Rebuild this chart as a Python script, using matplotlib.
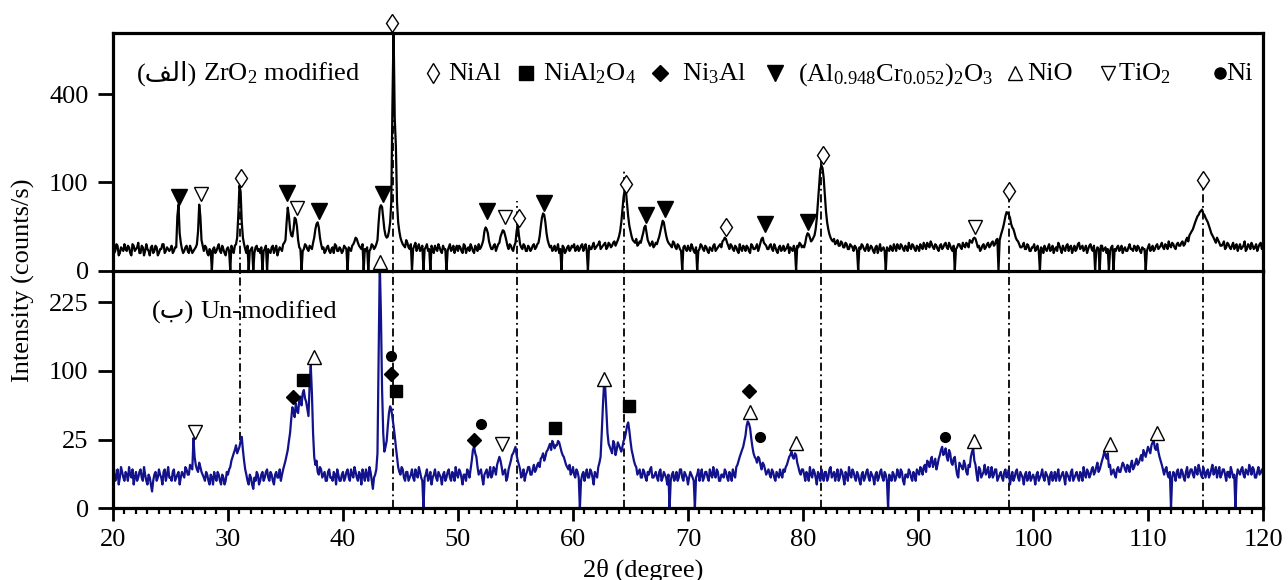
import numpy as np
import matplotlib
matplotlib.use('Agg')
import matplotlib.pyplot as plt

plt.rcParams['font.family'] = ['Liberation Serif', 'DejaVu Sans']
plt.rcParams['mathtext.fontset'] = 'custom'
plt.rcParams['mathtext.rm'] = 'Liberation Serif'
plt.rcParams['mathtext.it'] = 'Liberation Serif:italic'
plt.rcParams['mathtext.default'] = 'regular'

# 2theta grid, 0.1 degree step (20..120)
two_theta = np.linspace(20, 120, 1001)

# ZrO2 modified pattern (counts/s), read at 20.0, 20.2, ... (one row per 5 deg)
zro2_even = [
    7, 5, 8, 4, 6, 9, 5, 7, 3, 8, 6, 10, 4, 7, 5, 6, 3, 8, 5, 7, 4, 6, 9, 5, 6,
    6, 4, 7, 38, 18, 6, 5, 8, 4, 6, 5, 7, 20, 38, 8, 8, 4, 6, 0, 7, 5, 9, 4, 6, 3,
    7, 0, 6, 8, 14, 93, 30, 9, 4, 0, 6, 0, 7, 5, 4, 0, 6, 0, 5, 7, 4, 8, 5, 6, 9,
    12, 51, 22, 15, 36, 25, 7, 0, 6, 8, 5, 7, 10, 22, 30, 14, 6, 4, 7, 5, 6, 4, 8, 5, 6,
    5, 7, 0, 6, 8, 11, 13, 8, 6, 0, 5, 0, 6, 8, 7, 12, 50, 52, 22, 14, 20, 60, 760, 200, 30,
    14, 9, 7, 10, 6, 0, 8, 5, 9, 6, 0, 7, 5, 0, 6, 8, 5, 7, 4, 6, 0, 7, 5, 8, 6,
    5, 7, 4, 8, 6, 5, 7, 4, 6, 9, 7, 12, 24, 18, 8, 6, 9, 7, 10, 18, 20, 12, 6, 8, 5,
    10, 28, 9, 6, 8, 5, 7, 6, 9, 7, 10, 25, 42, 30, 12, 7, 5, 8, 6, 4, 0, 7, 5, 8, 6,
    7, 5, 8, 6, 9, 7, 5, 8, 6, 10, 7, 9, 6, 8, 10, 7, 9, 8, 11, 10, 15, 30, 70, 82, 38,
    20, 12, 10, 8, 11, 14, 24, 18, 10, 9, 7, 10, 12, 20, 32, 22, 12, 9, 7, 10, 6, 8, 5, 7, 6,
    8, 5, 7, 4, 0, 6, 8, 5, 7, 4, 6, 8, 5, 7, 9, 11, 14, 10, 6, 8, 5, 7, 4, 6, 8,
    5, 7, 4, 8, 6, 9, 7, 13, 10, 8, 6, 9, 5, 7, 4, 8, 6, 5, 7, 4, 6, 8, 0, 7, 9,
    8, 10, 18, 14, 12, 16, 35, 95, 142, 110, 45, 22, 14, 11, 9, 12, 8, 10, 7, 9, 6, 8, 5, 7, 0,
    6, 8, 5, 9, 6, 7, 4, 8, 6, 5, 7, 0, 6, 8, 5, 7, 9, 6, 8, 5, 7, 10, 6, 8, 5,
    7, 9, 6, 8, 10, 7, 9, 6, 8, 5, 9, 7, 10, 6, 8, 5, 0, 7, 9, 6, 8, 10, 7, 11, 13,
    13, 7, 5, 8, 6, 9, 7, 10, 8, 12, 0, 16, 24, 38, 43, 36, 24, 18, 12, 9, 7, 10, 6, 8, 5,
    7, 5, 8, 0, 6, 8, 5, 9, 6, 4, 7, 10, 6, 8, 5, 9, 7, 4, 8, 6, 10, 7, 5, 8, 6,
    9, 5, 0, 7, 0, 8, 6, 4, 0, 7, 0, 5, 8, 6, 4, 7, 5, 9, 6, 8, 5, 7, 4, 6, 0,
    7, 5, 8, 6, 9, 7, 10, 6, 8, 11, 7, 9, 6, 10, 8, 11, 9, 14, 16, 20, 26, 34, 40, 46, 42,
    36, 30, 22, 16, 12, 14, 10, 8, 11, 7, 9, 6, 10, 8, 5, 9, 7, 11, 6, 8, 10, 6, 9, 7, 10,
    8,
]
# same pattern read at 20.1, 20.3, ...
zro2_mid = [
    4, 9, 3, 7, 5, 6, 8, 4, 9, 5, 7, 4, 8, 3, 9, 5, 7, 4, 8, 3, 6, 9, 4, 7, 5,
    8, 5, 7, 56, 10, 4, 7, 5, 8, 4, 6, 9, 56, 12, 5, 7, 3, 5, 6, 4, 7, 5, 8, 4, 6,
    5, 8, 4, 9, 40, 80, 14, 6, 8, 5, 7, 4, 8, 6, 7, 5, 8, 6, 4, 8, 6, 3, 7, 5, 10,
    30, 38, 16, 22, 34, 12, 6, 5, 9, 6, 8, 6, 14, 28, 24, 9, 7, 5, 8, 4, 7, 9, 5, 7, 4,
    8, 6, 7, 5, 9, 14, 10, 7, 9, 6, 7, 5, 9, 6, 9, 30, 55, 35, 16, 15, 30, 350, 300, 60, 20,
    11, 8, 12, 7, 9, 6, 10, 7, 5, 8, 6, 9, 6, 8, 4, 6, 9, 5, 8, 6, 5, 9, 6, 4, 8,
    8, 5, 9, 4, 7, 9, 5, 8, 5, 6, 9, 20, 22, 11, 6, 8, 5, 9, 15, 21, 16, 8, 9, 6, 8,
    20, 16, 7, 9, 5, 8, 5, 8, 6, 9, 15, 36, 40, 18, 9, 8, 6, 5, 9, 6, 8, 4, 7, 5, 8,
    9, 6, 5, 8, 5, 9, 0, 6, 8, 6, 8, 11, 7, 9, 6, 10, 7, 10, 8, 12, 20, 48, 84, 58, 26,
    15, 11, 13, 9, 10, 18, 26, 12, 8, 11, 8, 9, 15, 26, 30, 16, 10, 8, 11, 7, 9, 6, 0, 8, 5,
    6, 9, 5, 7, 5, 9, 6, 8, 5, 7, 5, 9, 6, 8, 7, 12, 13, 8, 9, 6, 8, 5, 9, 5, 7,
    8, 5, 9, 6, 7, 5, 10, 14, 9, 6, 8, 6, 9, 5, 7, 5, 8, 6, 9, 7, 5, 6, 8, 10, 7,
    7, 15, 17, 11, 14, 22, 60, 130, 135, 75, 30, 17, 12, 13, 10, 8, 11, 7, 10, 6, 9, 7, 8, 5, 7,
    9, 6, 7, 5, 8, 5, 7, 4, 9, 6, 5, 7, 5, 6, 9, 5, 7, 9, 6, 8, 5, 7, 9, 6, 8,
    5, 7, 10, 6, 8, 11, 7, 9, 6, 8, 6, 9, 7, 10, 6, 8, 6, 9, 7, 10, 7, 9, 12, 10, 14,
    10, 8, 6, 9, 7, 10, 8, 11, 9, 13, 12, 20, 30, 44, 40, 28, 22, 14, 11, 7, 8, 6, 9, 5, 7,
    9, 6, 5, 7, 4, 6, 7, 5, 8, 6, 5, 8, 4, 6, 8, 5, 8, 6, 5, 9, 6, 8, 6, 4, 8,
    6, 8, 5, 6, 8, 5, 7, 6, 5, 8, 6, 7, 5, 8, 6, 5, 7, 6, 5, 7, 8, 5, 7, 6, 5,
    9, 6, 5, 8, 6, 8, 7, 9, 6, 8, 10, 7, 9, 8, 10, 8, 12, 11, 18, 22, 30, 38, 44, 48, 40,
    33, 26, 18, 14, 10, 12, 8, 9, 6, 10, 7, 8, 6, 9, 7, 6, 8, 5, 9, 6, 8, 7, 5, 9, 6,
]

# Un-modified pattern (counts/s), read at 20.0, 20.2, ...
unmod_even = [
    6, 4, 8, 5, 7, 4, 6, 9, 5, 3, 7, 5, 8, 4, 6, 3, 5, 1.5, 6, 4, 8, 5, 7, 4, 9,
    5, 7, 4, 6, 3, 7, 5, 8, 6, 9, 26, 10, 7, 9, 6, 4, 6, 3, 5, 7, 4, 6, 3, 5, 4,
    6, 9, 14, 18, 16, 20, 27, 12, 6, 3, 5, 2, 4, 6, 4, 7, 5, 8, 4, 6, 3, 7, 5, 4, 8,
    12, 18, 30, 54, 44, 50, 62, 56, 74, 60, 45, 108, 30, 10, 7, 9, 5, 7, 4, 8, 5, 7, 3, 6, 4,
    7, 5, 8, 4, 6, 9, 5, 7, 3, 6, 8, 4, 7, 2, 6, 16, 320, 75, 17, 24, 48, 52, 36, 20, 9,
    6, 8, 4, 7, 5, 8, 4, 6, 9, 5, 0, 6, 4, 7, 5, 8, 4, 6, 3, 7, 5, 8, 4, 6, 9,
    5, 7, 3, 6, 8, 5, 12, 20, 14, 6, 8, 3, 7, 5, 9, 6, 8, 10, 14, 9, 7, 4, 8, 12, 16,
    20, 12, 8, 6, 4, 7, 9, 6, 10, 8, 11, 13, 16, 14, 18, 22, 24, 19, 21, 23, 17, 14, 10, 8, 6,
    9, 5, 7, 0, 6, 4, 8, 5, 7, 3, 6, 9, 14, 55, 78, 30, 20, 16, 22, 18, 21, 17, 24, 30, 39,
    24, 15, 10, 6, 8, 5, 7, 4, 6, 9, 5, 7, 4, 8, 5, 6, 3, 0, 6, 4, 7, 5, 8, 4, 6,
    3, 7, 5, 0, 6, 4, 8, 5, 7, 4, 6, 9, 5, 7, 4, 6, 8, 5, 7, 4, 6, 9, 12, 16, 20,
    28, 40, 34, 20, 14, 11, 13, 8, 10, 6, 8, 5, 7, 4, 6, 8, 5, 7, 10, 14, 17, 13, 15, 9, 6,
    8, 4, 6, 9, 5, 7, 3, 6, 8, 4, 7, 5, 9, 6, 4, 8, 5, 7, 3, 6, 9, 5, 7, 4, 6,
    3, 7, 5, 8, 4, 6, 3, 7, 5, 8, 4, 6, 0, 5, 7, 4, 8, 5, 7, 3, 6, 8, 5, 7, 4,
    7, 9, 6, 10, 12, 9, 14, 11, 8, 13, 18, 15, 19, 12, 16, 10, 14, 6, 11, 9, 12, 7, 10, 14, 19,
    10, 4, 8, 6, 10, 7, 5, 9, 6, 8, 5, 7, 4, 8, 6, 3, 7, 5, 8, 4, 6, 3, 7, 5, 4,
    6, 3, 7, 5, 8, 4, 6, 3, 7, 5, 4, 8, 5, 7, 3, 6, 4, 8, 5, 7, 4, 6, 9, 5, 7,
    6, 9, 7, 11, 8, 12, 17, 13, 9, 6, 8, 5, 9, 7, 11, 8, 10, 7, 12, 9, 13, 11, 15, 18, 14,
    20, 16, 23, 19, 22, 14, 10, 6, 9, 5, 0, 7, 4, 8, 5, 7, 4, 9, 6, 8, 5, 7, 10, 6, 9,
    5, 8, 6, 10, 7, 5, 9, 6, 8, 4, 7, 9, 5, 0, 8, 6, 9, 5, 7, 10, 6, 8, 5, 9, 7,
    6,
]
# same pattern read at 20.1, 20.3, ...
unmod_mid = [
    8, 5, 3, 9, 5, 7, 4, 6, 8, 5, 4, 7, 5, 9, 4, 6, 3, 4, 7, 5, 6, 3, 8, 6, 5,
    4, 8, 5, 7, 5, 6, 9, 6, 10, 8, 14, 8, 11, 7, 5, 7, 4, 6, 3, 5, 7, 4, 6, 3, 7,
    8, 12, 16, 21, 18, 24, 18, 8, 4, 6, 3, 5, 7, 3, 6, 4, 7, 5, 7, 4, 6, 5, 8, 6, 10,
    15, 24, 42, 50, 58, 48, 66, 70, 64, 52, 80, 70, 14, 12, 6, 8, 6, 4, 7, 5, 4, 6, 8, 4, 6,
    4, 7, 5, 8, 5, 7, 4, 6, 8, 4, 6, 9, 4, 5, 8, 120, 200, 30, 20, 36, 55, 44, 28, 14, 7,
    9, 5, 7, 4, 6, 5, 8, 5, 7, 4, 5, 8, 5, 3, 6, 5, 7, 5, 6, 4, 7, 5, 7, 4, 6,
    8, 5, 6, 4, 7, 8, 18, 16, 9, 7, 5, 6, 8, 6, 5, 9, 6, 12, 12, 6, 8, 5, 10, 15, 18,
    15, 10, 5, 8, 6, 9, 6, 8, 7, 10, 9, 14, 12, 17, 20, 18, 22, 21, 24, 20, 15, 12, 9, 10, 7,
    6, 8, 5, 4, 7, 6, 5, 8, 5, 7, 5, 11, 30, 82, 50, 22, 18, 24, 15, 23, 19, 20, 26, 36, 32,
    18, 12, 9, 7, 5, 8, 5, 7, 8, 5, 6, 5, 7, 4, 7, 5, 6, 4, 7, 5, 4, 8, 5, 7, 5,
    5, 6, 4, 5, 8, 6, 4, 7, 5, 8, 5, 6, 8, 4, 6, 5, 7, 4, 6, 8, 5, 10, 14, 18, 24,
    36, 38, 26, 16, 13, 14, 10, 11, 8, 7, 6, 8, 5, 7, 5, 6, 8, 9, 12, 15, 14, 16, 11, 7, 8,
    6, 7, 4, 6, 8, 5, 7, 4, 6, 7, 4, 8, 5, 7, 6, 4, 8, 5, 7, 4, 6, 8, 5, 7, 4,
    6, 4, 7, 5, 7, 5, 6, 4, 7, 5, 7, 4, 6, 4, 6, 5, 6, 8, 4, 6, 5, 7, 4, 6, 8,
    6, 8, 9, 7, 11, 12, 9, 13, 10, 15, 20, 16, 14, 18, 11, 13, 9, 5, 10, 8, 10, 6, 9, 17, 12,
    6, 9, 5, 7, 6, 9, 6, 5, 8, 4, 6, 5, 7, 5, 8, 5, 4, 7, 5, 7, 5, 6, 4, 7, 5,
    5, 6, 4, 6, 5, 7, 5, 6, 4, 7, 6, 4, 6, 5, 7, 5, 7, 4, 6, 5, 7, 4, 6, 8, 5,
    8, 6, 9, 7, 10, 14, 15, 16, 10, 7, 6, 8, 7, 9, 10, 7, 9, 10, 8, 11, 10, 13, 12, 16, 17,
    18, 21, 24, 18, 17, 12, 8, 8, 6, 7, 5, 6, 7, 5, 8, 5, 7, 5, 8, 6, 9, 6, 8, 5, 7,
    7, 5, 8, 6, 9, 7, 5, 8, 6, 7, 5, 7, 6, 5, 7, 8, 6, 8, 6, 8, 9, 5, 7, 6, 8,
]

# NiAl reference lines (dash-dot)
nial_lines = [31.05, 44.35, 55.1, 64.45, 81.6, 97.9, 114.75]
top_line_tops = [90, 760, 63, 129, 180, 69, 90]
bot_line_bottoms = [25, 0, 0, 0, 0, 0, 0]

# phase markers, upper pattern
top_nial_x = [31.1, 44.3, 55.3, 64.58, 73.3, 81.7, 97.9, 114.8]
top_nial_y = [111, 786, 35.8, 97, 24.2, 170.8, 80.6, 104.6]
top_al2o3_x = [25.74, 35.16, 37.9, 43.45, 52.5, 57.5, 66.35, 68.0, 76.7, 80.46]
top_al2o3_y = [68.8, 77, 46.5, 74.6, 45, 58.5, 40.5, 49, 28.2, 30.2]
top_tio2_x = [27.65, 35.97, 54.1, 95.0]
top_tio2_y = [76, 50.7, 36.7, 24.2]

# phase markers, lower pattern
bot_tio2_x = [27.13, 53.8]
bot_tio2_y = [31, 21.7]
bot_ni3al_x = [35.68, 44.2, 51.42, 75.33]
bot_ni3al_y = [65.9, 95, 24.7, 73.2]
bot_spinel_x = [36.55, 44.58, 58.43, 64.87]
bot_spinel_y = [87, 72.8, 33.8, 55.7]
bot_nio_x = [37.48, 43.2, 62.7, 75.4, 79.36, 94.87, 106.7, 110.75]
bot_nio_y = [121.6, 321.6, 88, 49.4, 22.8, 24, 21.7, 30.2]
bot_ni_x = [44.2, 51.97, 76.26, 92.35]
bot_ni_y = [122.6, 37.3, 27.1, 27.1]

zro2 = np.empty(len(two_theta))
zro2[0::2] = zro2_even
zro2[1::2] = zro2_mid
unmod = np.empty(len(two_theta))
unmod[0::2] = unmod_even
unmod[1::2] = unmod_mid

FS = 19
blue = '#12128c'


def sq(y):
    return np.sqrt(np.clip(y, 0, None))


def isq(y):
    return np.asarray(y) ** 2


fig = plt.figure(figsize=(12.88, 5.8), dpi=100)
ax_top = fig.add_axes([0.0877, 0.5333, 0.8929, 0.4103])
ax_bot = fig.add_axes([0.0877, 0.1236, 0.8929, 0.4097])

for ax in (ax_top, ax_bot):
    ax.set_yscale('function', functions=(sq, isq))
    ax.set_xlim(20, 120)
    for s in ax.spines.values():
        s.set_linewidth(2.3)
    ax.tick_params(axis='y', direction='out', length=10.5, width=2,
                   labelsize=FS, pad=7, which='major')
    ax.tick_params(axis='y', which='minor', left=False)

ax_top.set_ylim(0, 727)
ax_top.set_yticks([0, 100, 400])
ax_top.spines['bottom'].set_visible(False)
ax_top.tick_params(axis='x', which='both', bottom=False, labelbottom=False)

ax_bot.set_ylim(0, 298.6)
ax_bot.set_yticks([0, 25, 100, 225])
ax_bot.set_xticks(np.arange(20, 121, 10))
ax_bot.set_xticks(np.arange(20, 121, 1), minor=True)
ax_bot.tick_params(axis='x', which='major', direction='out', length=9,
                   width=2, labelsize=FS, pad=6)
ax_bot.tick_params(axis='x', which='minor', direction='out', length=4,
                   width=1.6)

dd = (0, (4.5, 2, 1, 2))
ax_top.vlines(nial_lines, 0, top_line_tops, colors='black', lw=1.3,
              linestyles=[dd], zorder=1)
ax_bot.vlines(nial_lines, bot_line_bottoms, 300, colors='black', lw=1.3,
              linestyles=[dd], zorder=1)

ax_top.plot(two_theta, zro2, color='black', lw=1.6, zorder=2)
ax_bot.plot(two_theta, unmod, color=blue, lw=1.6, zorder=2)

mk = dict(ls='none', clip_on=False, zorder=6)
ax_top.plot(top_nial_x, top_nial_y, marker='d', ms=9.5, mfc='white', mec='black', mew=1.0, **mk)
ax_top.plot(top_al2o3_x, top_al2o3_y, marker='v', ms=11, mfc='black', mec='black', **mk)
ax_top.plot(top_tio2_x, top_tio2_y, marker='v', ms=10, mfc='white', mec='black', mew=1.0, **mk)

ax_bot.plot(bot_tio2_x, bot_tio2_y, marker='v', ms=10, mfc='white', mec='black', mew=1.0, **mk)
ax_bot.plot(bot_ni3al_x, bot_ni3al_y, marker='D', ms=7, mfc='black', mec='black', **mk)
ax_bot.plot(bot_spinel_x, bot_spinel_y, marker='s', ms=9, mfc='black', mec='black', **mk)
ax_bot.plot(bot_nio_x, bot_nio_y, marker='^', ms=10, mfc='white', mec='black', mew=1.0, **mk)
ax_bot.plot(bot_ni_x, bot_ni_y, marker='o', ms=7, mfc='black', mec='black', **mk)

# legend row in the upper panel
leg = [
    (0.2785, dict(marker='d', ms=10, mfc='white', mec='black', mew=1.0), 0.2913, 'NiAl'),
    (0.359, dict(marker='s', ms=9.5, mfc='black', mec='black'), 0.374, 'NiAl$_2$O$_4$'),
    (0.4757, dict(marker='D', ms=8, mfc='black', mec='black'), 0.4945, 'Ni$_3$Al'),
    (0.5757, dict(marker='v', ms=11, mfc='black', mec='black'), 0.5957,
     '(Al$_{0.948}$Cr$_{0.052}$)$_2$O$_3$'),
    (0.7843, dict(marker='^', ms=10.5, mfc='white', mec='black', mew=1.0), 0.7954, 'NiO'),
    (0.8655, dict(marker='v', ms=10.5, mfc='white', mec='black', mew=1.0), 0.8742, 'TiO$_2$'),
    (0.9626, dict(marker='o', ms=8, mfc='black', mec='black'), 0.9684, 'Ni'),
]
for mx, style, tx, label in leg:
    ax_top.plot([mx], [0.83], transform=ax_top.transAxes, ls='none',
                clip_on=False, zorder=6, **style)
    ax_top.text(tx, 0.80, label, transform=ax_top.transAxes, fontsize=FS,
                va='baseline', ha='left')

# panel labels: Arabic part first, the rest placed after it
renderer = fig.canvas.get_renderer()


def panel_label(ax, x, arabic, rest):
    t = ax.text(x, 0.80, arabic, transform=ax.transAxes, fontsize=FS,
                va='baseline', ha='left')
    bb = t.get_window_extent(renderer)
    x2 = ax.transAxes.inverted().transform((bb.x1 + 6, 0))[0]
    ax.text(x2, 0.80, rest, transform=ax.transAxes, fontsize=FS,
            va='baseline', ha='left')


panel_label(ax_top, 0.021, '(\uFED2\uFEDF\uFE8D)', 'ZrO$_2$ modified')
panel_label(ax_bot, 0.034, '(\uFE8F)', 'Un-modified')

fig.text(0.018, 0.517, 'Intensity (counts/s)', rotation=90, fontsize=FS,
         ha='center', va='center')
fig.text(0.499, 0.016, '2\u03b8 (degree)', fontsize=FS, ha='center', va='center')

fig.savefig('out.png', dpi=100)
